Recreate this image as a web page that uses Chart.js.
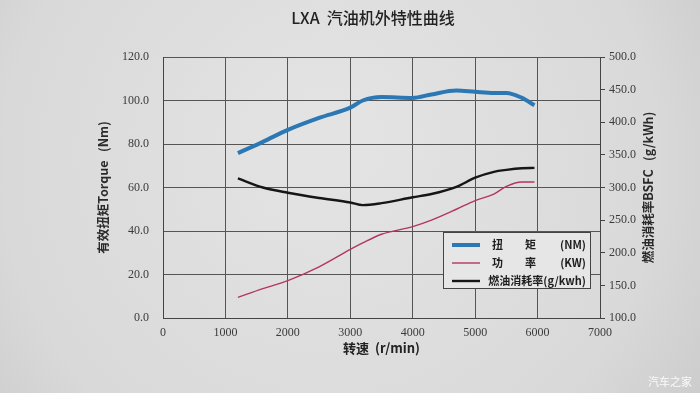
<!DOCTYPE html>
<html>
<head>
<meta charset="utf-8">
<script src="https://cdn.jsdelivr.net/npm/chart.js@4/dist/chart.umd.min.js"></script>
<style>
html,body{margin:0;padding:0;background:#d8d8d8;}
#wrap{width:700px;height:393px;}
</style>
</head>
<body>
<div id="wrap"><canvas id="c" width="700" height="393"></canvas></div>
<script>
// ---- data ----
const chartTitle = 'LXA  汽油机外特性曲线';
const rpm    = [1200, 1600, 2000, 2500, 3000, 3200, 3500, 4000, 4300, 4700, 5000, 5300, 5500, 5750, 5950];
const torque = [75.8, 81, 86.5, 92, 96.7, 100, 101.6, 101.2, 102.8, 104.6, 104, 103.5, 103.5, 101.2, 97.8];
const power  = [9.5, 13.5, 17.2, 23.5, 31.5, 34.5, 38.5, 42, 45, 50, 54, 57, 60.5, 62.5, 62.5];
const bsfc   = [314, 300, 292, 284, 277, 273, 276, 285, 290, 301, 315, 324, 327, 329.5, 330];
const seriesNames = ['扭　　矩', '功　　率', '燃油消耗率'];
const seriesUnits = ['(NM)', '(KW)', '(g/kwh)'];
const xTitle = '转速  (r/min)';
const yLeftTitle = '有效扭矩Torque   (Nm)';
const yRightTitle = '燃油消耗率BSFC   (g/kWh)';
const watermark = '汽车之家';

const pts = arr => rpm.map((x, i) => ({x: x, y: arr[i]}));
const colors = ['#2b78b4', '#b2365e', '#161616'];
const widths = [4, 1.4, 2.4];

const decor = {
  id: 'decor',
  beforeDraw(chart) {
    const ctx = chart.ctx;
    ctx.save();
    const g = ctx.createRadialGradient(330, 140, 40, 330, 180, 520);
    g.addColorStop(0, '#e3e3e3');
    g.addColorStop(0.6, '#d9d9da');
    g.addColorStop(1, '#c2c2c2');
    ctx.fillStyle = g;
    ctx.fillRect(0, 0, chart.width, chart.height);
    ctx.restore();
  },
  afterDraw(chart) {
    const ctx = chart.ctx;
    const ca = chart.chartArea;
    ctx.save();
    // title
    ctx.fillStyle = '#222';
    ctx.font = '500 16px "Noto Sans CJK SC", sans-serif';
    ctx.textAlign = 'center';
    ctx.textBaseline = 'middle';
    ctx.fillText(chartTitle, 373, 18);
    // right axis title, reading bottom-to-top
    ctx.save();
    ctx.translate(648, (ca.top + ca.bottom) / 2);
    ctx.rotate(-Math.PI / 2);
    ctx.font = 'bold 12.5px "Noto Sans CJK SC", sans-serif';
    ctx.fillStyle = '#2a2a2a';
    ctx.fillText(yRightTitle, 0, 0);
    ctx.restore();
    // legend box
    const bw = 147, bh = 56;
    const bx = ca.right - bw - 10, by = ca.bottom - bh - 30;
    ctx.fillStyle = '#e6e6e6';
    ctx.fillRect(bx, by, bw, bh);
    ctx.strokeStyle = '#444';
    ctx.lineWidth = 1;
    ctx.strokeRect(bx + 0.5, by + 0.5, bw, bh);
    chart.data.datasets.forEach((ds, i) => {
      const yy = by + 13 + i * 18;
      ctx.strokeStyle = ds.borderColor;
      ctx.lineWidth = ds.borderWidth;
      ctx.beginPath();
      ctx.moveTo(bx + 9, yy);
      ctx.lineTo(bx + 37, yy);
      ctx.stroke();
      ctx.fillStyle = '#1e1e1e';
      ctx.font = 'bold 11px "Noto Sans CJK SC", sans-serif';
      if (i < 2) {
        ctx.textAlign = 'left';
        ctx.fillText(seriesNames[i], bx + 49, yy);
        ctx.textAlign = 'right';
        ctx.fillText(seriesUnits[i], bx + bw - 4, yy);
      } else {
        ctx.textAlign = 'right';
        ctx.fillText(seriesNames[i] + seriesUnits[i], bx + bw - 4, yy);
      }
    });
    // watermark
    ctx.textAlign = 'left';
    ctx.fillStyle = 'rgba(255,255,255,0.9)';
    ctx.font = '11px "Noto Sans CJK SC", sans-serif';
    ctx.fillText(watermark, 648, 382);
    ctx.restore();
  }
};

const tickFont = {family: '"Liberation Serif", serif', size: 12};

new Chart(document.getElementById('c'), {
  type: 'line',
  data: {
    datasets: [
      {label: seriesNames[0], data: pts(torque), yAxisID: 'y', borderColor: colors[0], borderWidth: widths[0]},
      {label: seriesNames[1], data: pts(power), yAxisID: 'y', borderColor: colors[1], borderWidth: widths[1]},
      {label: seriesNames[2], data: pts(bsfc), yAxisID: 'y2', borderColor: colors[2], borderWidth: widths[2]}
    ]
  },
  options: {
    responsive: false,
    animation: false,
    layout: {padding: {left: 90, right: 0, top: 57, bottom: 33}},
    elements: {point: {radius: 0}, line: {tension: 0.35, cubicInterpolationMode: 'monotone', fill: false}},
    plugins: {legend: {display: false}, title: {display: false}, tooltip: {enabled: false}},
    scales: {
      x: {
        type: 'linear', min: 0, max: 7000,
        ticks: {stepSize: 1000, color: '#3a3a3a', font: tickFont, padding: 8, maxRotation: 0, callback: v => String(v)},
        grid: {color: '#555', lineWidth: 1, tickLength: 0},
        border: {color: '#444', width: 1},
        title: {display: true, text: xTitle, color: '#222', font: {family: '"Noto Sans CJK SC", sans-serif', size: 13, weight: 'bold'}, padding: {top: 2, bottom: 4}},
        afterFit(s) { s.height = 42; }
      },
      y: {
        position: 'left', min: 0, max: 120,
        ticks: {stepSize: 20, color: '#3a3a3a', font: tickFont, padding: 14, callback: v => v.toFixed(1)},
        grid: {color: '#555', lineWidth: 1, tickLength: 0},
        border: {color: '#444', width: 1},
        title: {display: true, text: yLeftTitle, color: '#2a2a2a', font: {family: '"Noto Sans CJK SC", sans-serif', size: 12.5, weight: 'bold'}, padding: {top: 6, bottom: 0}},
        afterFit(s) { s.width = 73; }
      },
      y2: {
        position: 'right', min: 100, max: 500,
        ticks: {stepSize: 50, color: '#3a3a3a', font: tickFont, padding: 4, callback: v => v.toFixed(1)},
        grid: {drawOnChartArea: false, color: '#444', tickLength: 5},
        border: {color: '#444', width: 1},
        afterFit(s) { s.width = 100; }
      }
    }
  },
  plugins: [decor]
});
</script>
</body>
</html>
